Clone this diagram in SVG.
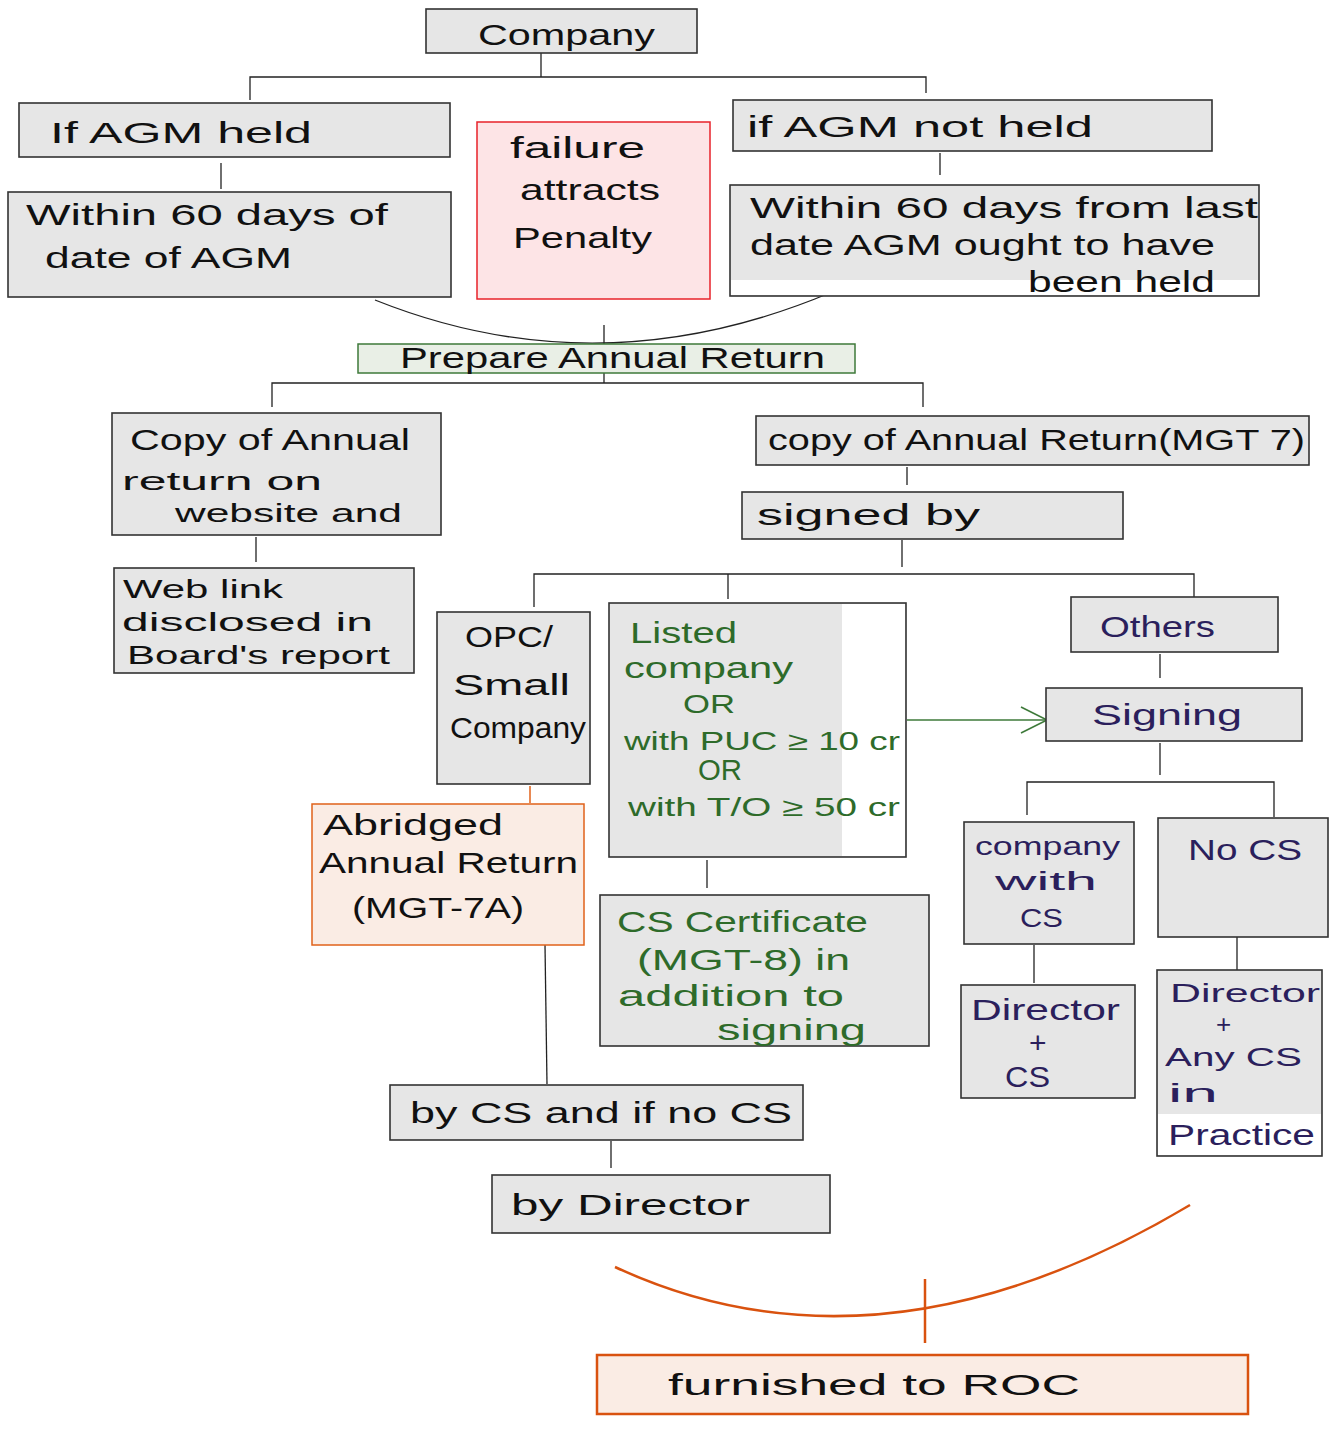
<svg xmlns="http://www.w3.org/2000/svg" width="1338" height="1439" viewBox="0 0 1338 1439">
<defs>
<style>
.b{fill:#e6e6e6;stroke:#333;stroke-width:1.6}
.w{fill:#fff;stroke:none}
.t{font-family:"Liberation Sans",Arial,sans-serif;font-size:30px;fill:#111}
.s{font-size:26px}
.g{fill:#2e6b2a}
.p{fill:#2b1f5c}
.l{fill:none;stroke:#222;stroke-width:1.3}
.o{fill:none;stroke:#d9520f;stroke-width:2.5}
</style>
<marker id="ah" viewBox="0 0 30 30" refX="28" refY="15" markerWidth="30" markerHeight="30" markerUnits="userSpaceOnUse" orient="auto">
<path d="M2,2 L28,15 L2,28" fill="none" stroke="#3e7a3a" stroke-width="1.6"/>
</marker>
</defs>
<rect width="1338" height="1439" fill="#fff"/>
<g id="connectors">
<path class="l" d="M541,53V77M250,100V77H926V93"/>
<path class="l" d="M221,163V189"/>
<path class="l" d="M940,153V175"/>
<path class="l" d="M375,300Q600,390 832,292"/>
<path class="l" d="M604,325V383"/>
<path class="l" d="M272,407V383H923V407"/>
<path class="l" d="M256,537V562"/>
<path class="l" d="M907,467V485"/>
<path class="l" d="M902,540V567"/>
<path class="l" d="M534,607V574H1194V597M728,574V599"/>
<path d="M530,786V803" stroke="#e0621a" stroke-width="1.5" fill="none"/>
<path class="l" d="M707,860V888"/>
<path d="M907,720H1047" stroke="#3e7a3a" stroke-width="1.6" fill="none" marker-end="url(#ah)"/>
<path class="l" d="M1160,654V678"/>
<path class="l" d="M1160,743V775"/>
<path class="l" d="M1027,815V782H1274V817"/>
<path class="l" d="M1034,945V983"/>
<path class="l" d="M1237,937V970"/>
<path class="l" d="M545,945L547,1084"/>
<path class="l" d="M611,1141V1168"/>
<path class="o" d="M615,1267Q880,1390 1190,1205"/>
<path class="o" d="M925,1279V1343" stroke-width="2"/>
</g>
<g id="company"><rect class="b" x="426" y="9" width="271" height="44"/><text class="t" x="478" y="45" textLength="177" lengthAdjust="spacingAndGlyphs">Company</text></g>
<g id="agm-held"><rect class="b" x="19" y="103" width="431" height="54"/><text class="t" x="50" y="143" textLength="262" lengthAdjust="spacingAndGlyphs">If AGM held</text></g>
<g id="within-held"><rect class="b" x="8" y="192" width="443" height="105"/><text class="t" x="26" y="225" textLength="362" lengthAdjust="spacingAndGlyphs">Within 60 days of</text><text class="t" x="45" y="268" textLength="247" lengthAdjust="spacingAndGlyphs">date of AGM</text></g>
<g id="penalty"><rect x="477" y="122" width="233" height="177" fill="#fde4e6" stroke="#e8222a" stroke-width="1.5"/><text class="t" x="510" y="158" textLength="135" lengthAdjust="spacingAndGlyphs">failure</text><text class="t" x="520" y="200" textLength="140" lengthAdjust="spacingAndGlyphs">attracts</text><text class="t" x="513" y="248" textLength="139" lengthAdjust="spacingAndGlyphs">Penalty</text></g>
<g id="agm-not-held"><rect class="b" x="733" y="100" width="479" height="51"/><text class="t" x="747" y="137" textLength="346" lengthAdjust="spacingAndGlyphs">if AGM not held</text></g>
<g id="within-not-held"><rect class="b" x="730" y="185" width="529" height="111"/><rect class="w" x="731" y="280" width="527" height="15"/><text class="t" x="750" y="218" textLength="508" lengthAdjust="spacingAndGlyphs">Within 60 days from last</text><text class="t" x="750" y="255" textLength="465" lengthAdjust="spacingAndGlyphs">date AGM ought to have</text><text class="t" x="1028" y="292" textLength="187" lengthAdjust="spacingAndGlyphs">been held</text></g>
<g id="prepare"><rect x="358" y="344" width="497" height="29" fill="#e9efe6" stroke="#3e7a3a" stroke-width="1.5"/><text class="t" x="400" y="368" textLength="425" lengthAdjust="spacingAndGlyphs" font-size="27">Prepare Annual Return</text></g>
<g id="copy-website"><rect class="b" x="112" y="413" width="329" height="122"/><text class="t" x="130" y="450" textLength="280" lengthAdjust="spacingAndGlyphs">Copy of Annual</text><text class="t s" x="122" y="490" textLength="200" lengthAdjust="spacingAndGlyphs">return on</text><text class="t s" x="175" y="522" textLength="227" lengthAdjust="spacingAndGlyphs">website and</text></g>
<g id="web-link"><rect class="b" x="114" y="568" width="300" height="105"/><text class="t s" x="123" y="598" textLength="160" lengthAdjust="spacingAndGlyphs">Web link</text><text class="t s" x="122" y="631" textLength="251" lengthAdjust="spacingAndGlyphs">disclosed in</text><text class="t s" x="127" y="664" textLength="263" lengthAdjust="spacingAndGlyphs">Board's report</text></g>
<g id="copy-mgt7"><rect class="b" x="756" y="416" width="553" height="49"/><text class="t" x="768" y="450" textLength="537" lengthAdjust="spacingAndGlyphs">copy of Annual Return(MGT 7)</text></g>
<g id="signed-by"><rect class="b" x="742" y="492" width="381" height="47"/><text class="t" x="757" y="525" textLength="223" lengthAdjust="spacingAndGlyphs">signed by</text></g>
<g id="opc"><rect class="b" x="437" y="612" width="153" height="172"/><text class="t" x="465" y="647" textLength="88" lengthAdjust="spacingAndGlyphs">OPC/</text><text class="t" x="453" y="695" textLength="117" lengthAdjust="spacingAndGlyphs">Small</text><text class="t" x="450" y="738" textLength="136" lengthAdjust="spacingAndGlyphs">Company</text></g>
<g id="abridged"><rect x="312" y="804" width="272" height="141" fill="#faece4" stroke="#e0621a" stroke-width="1.5"/><text class="t" x="323" y="835" textLength="180" lengthAdjust="spacingAndGlyphs">Abridged</text><text class="t" x="319" y="873" textLength="259" lengthAdjust="spacingAndGlyphs">Annual Return</text><text class="t" x="352" y="918" textLength="172" lengthAdjust="spacingAndGlyphs">(MGT-7A)</text></g>
<g id="listed"><rect class="b" x="609" y="603" width="297" height="254"/><rect class="w" x="842" y="604" width="63" height="252"/><text class="t g" x="630" y="643" textLength="107" lengthAdjust="spacingAndGlyphs">Listed</text><text class="t g" x="624" y="678" textLength="169" lengthAdjust="spacingAndGlyphs">company</text><text class="t g s" x="683" y="713" textLength="52" lengthAdjust="spacingAndGlyphs" font-size="24">OR</text><text class="t g s" x="624" y="750" textLength="276" lengthAdjust="spacingAndGlyphs">with PUC ≥ 10 cr</text><text class="t g" x="698" y="780" textLength="44" lengthAdjust="spacingAndGlyphs" font-size="22">OR</text><text class="t g s" x="628" y="816" textLength="272" lengthAdjust="spacingAndGlyphs">with T/O ≥ 50 cr</text></g>
<g id="cs-certificate"><rect class="b" x="600" y="895" width="329" height="151"/><text class="t g" x="617" y="932" textLength="251" lengthAdjust="spacingAndGlyphs">CS Certificate</text><text class="t g" x="637" y="970" textLength="213" lengthAdjust="spacingAndGlyphs">(MGT-8) in</text><text class="t g" x="618" y="1006" textLength="226" lengthAdjust="spacingAndGlyphs">addition to</text><text class="t g" x="717" y="1040" textLength="149" lengthAdjust="spacingAndGlyphs">signing</text></g>
<g id="others"><rect class="b" x="1071" y="597" width="207" height="55"/><text class="t p" x="1100" y="637" textLength="115" lengthAdjust="spacingAndGlyphs">Others</text></g>
<g id="signing"><rect class="b" x="1046" y="688" width="256" height="53"/><text class="t p" x="1092" y="725" textLength="150" lengthAdjust="spacingAndGlyphs">Signing</text></g>
<g id="company-with-cs"><rect class="b" x="964" y="822" width="170" height="122"/><text class="t p s" x="975" y="855" textLength="145" lengthAdjust="spacingAndGlyphs">company</text><text class="t p s" x="995" y="890" textLength="102" lengthAdjust="spacingAndGlyphs">with</text><text class="t p s" x="1020" y="927" textLength="43" lengthAdjust="spacingAndGlyphs">CS</text></g>
<g id="no-cs"><rect class="b" x="1158" y="818" width="170" height="119"/><text class="t p" x="1188" y="860" textLength="114" lengthAdjust="spacingAndGlyphs">No CS</text></g>
<g id="director-cs"><rect class="b" x="961" y="985" width="174" height="113"/><text class="t p" x="971" y="1020" textLength="149" lengthAdjust="spacingAndGlyphs">Director</text><text class="t p" x="1029" y="1053">+</text><text class="t p" x="1005" y="1087" textLength="45" lengthAdjust="spacingAndGlyphs">CS</text></g>
<g id="director-any-cs"><rect class="b" x="1157" y="970" width="165" height="186"/><rect class="w" x="1158" y="1114" width="163" height="41"/><text class="t p s" x="1170" y="1002" textLength="150" lengthAdjust="spacingAndGlyphs">Director</text><text class="t p s" x="1216" y="1033">+</text><text class="t p s" x="1165" y="1066" textLength="137" lengthAdjust="spacingAndGlyphs">Any CS</text><text class="t p s" x="1168" y="1102" textLength="50" lengthAdjust="spacingAndGlyphs">in</text><text class="t p" x="1168" y="1145" textLength="147" lengthAdjust="spacingAndGlyphs">Practice</text></g>
<g id="by-cs"><rect class="b" x="390" y="1085" width="413" height="55"/><text class="t" x="410" y="1123" textLength="382" lengthAdjust="spacingAndGlyphs">by CS and if no CS</text></g>
<g id="by-director"><rect class="b" x="492" y="1175" width="338" height="58"/><text class="t" x="511" y="1215" textLength="239" lengthAdjust="spacingAndGlyphs">by Director</text></g>
<g id="roc"><rect x="597" y="1355" width="651" height="59" fill="#faece4" stroke="#d9520f" stroke-width="2.5"/><text class="t" x="668" y="1395" textLength="412" lengthAdjust="spacingAndGlyphs">furnished to ROC</text></g>
</svg>
